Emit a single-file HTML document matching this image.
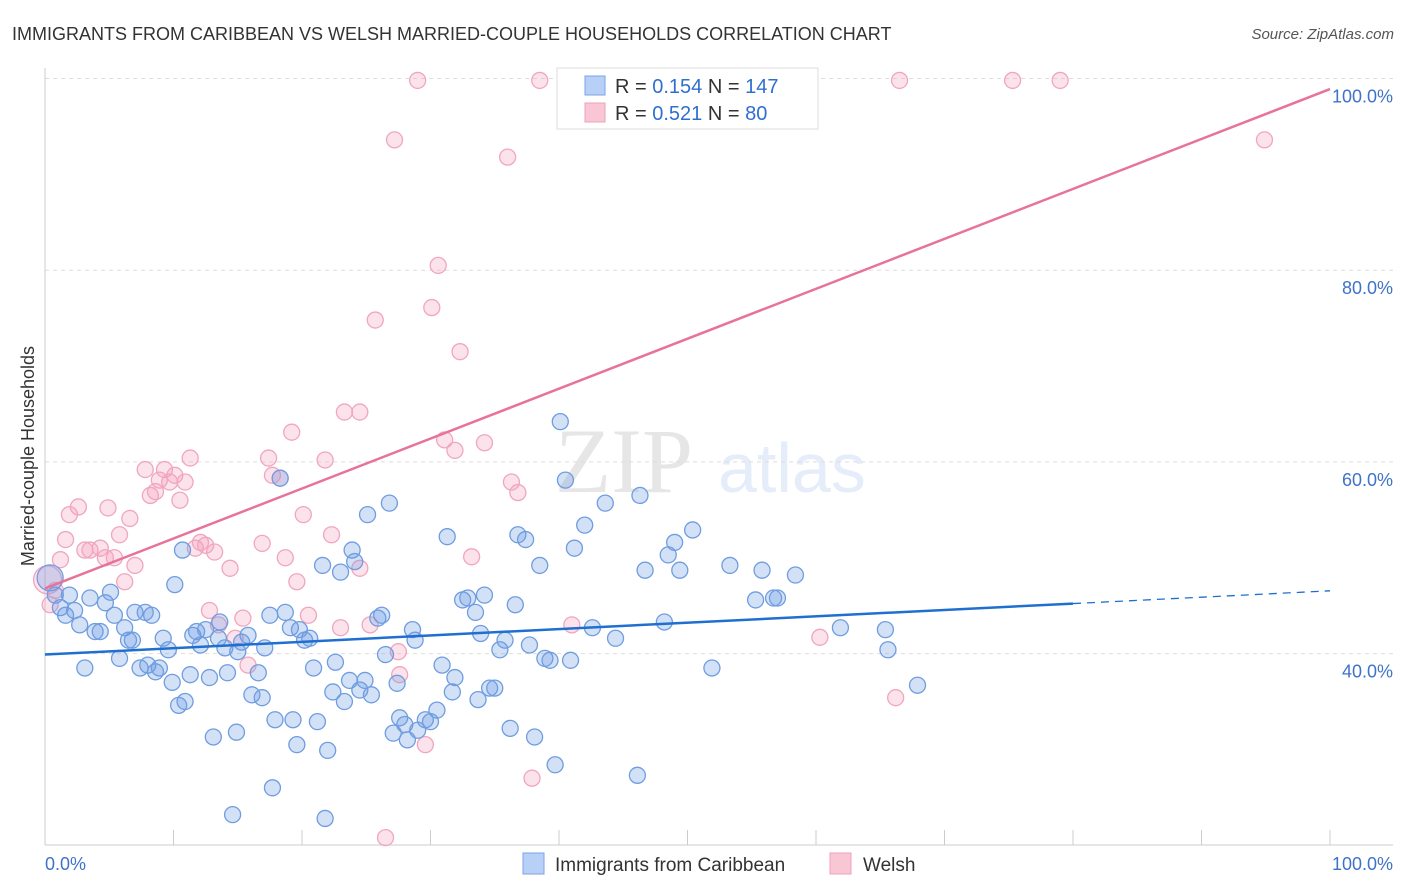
<!DOCTYPE html>
<html><head><meta charset="utf-8"><style>
body{margin:0;background:#fff;font-family:"Liberation Sans",sans-serif}
</style></head><body>
<svg id="chart" width="1406" height="892" xmlns="http://www.w3.org/2000/svg" style="display:block">
<text x="12" y="40" font-size="18" fill="#333">IMMIGRANTS FROM CARIBBEAN VS WELSH MARRIED-COUPLE HOUSEHOLDS CORRELATION CHART</text>
<text x="1394" y="39" font-size="15" fill="#555" text-anchor="end" font-style="italic">Source: ZipAtlas.com</text>
<text transform="translate(34,456) rotate(-90)" font-size="18" fill="#333" text-anchor="middle">Married-couple Households</text>
<g opacity="0.13"><text x="555" y="492" font-family="Liberation Serif" font-size="92" fill="#444">ZIP</text><text x="718" y="492" font-size="70" fill="#3b78d8">atlas</text></g>
<g id="grid"></g><g id="axes"></g><g id="marks"></g><g id="lines"></g>
<g>
<rect x="557" y="68" width="261" height="61" fill="#fff" stroke="#ddd"/>
<rect x="585" y="76" width="20" height="19" fill="#b8d0f5" stroke="#7aa5e6"/>
<rect x="585" y="103" width="20" height="19" fill="#f9c6d5" stroke="#f0a0bb"/>
<text x="615" y="93" font-size="20" fill="#333">R = <tspan fill="#2f6fd0">0.154</tspan>   N = <tspan fill="#2f6fd0">147</tspan></text>
<text x="615" y="120" font-size="20" fill="#333">R = <tspan fill="#2f6fd0">0.521</tspan>   N =  <tspan fill="#2f6fd0"> 80</tspan></text>
</g>
<g>
<rect x="523" y="853" width="21" height="21" fill="#b8d0f5" stroke="#7aa5e6"/>
<text x="555" y="871" font-size="19" fill="#333">Immigrants from Caribbean</text>
<rect x="830" y="853" width="21" height="21" fill="#f9c6d5" stroke="#f0a0bb"/>
<text x="863" y="871" font-size="19" fill="#333">Welsh</text>
</g>
</svg>
<script>
const yTicks=[40,60,80,100];
const yTickLabels=["40.0%","60.0%","80.0%","100.0%"];
const xTickVals=[0,10,20,30,40,50,60,70,80,90,100];
const blueX=[0.4,0.8,1.2,1.6,1.9,2.3,2.7,3.1,3.5,3.9,4.3,4.7,5.1,5.4,5.8,6.2,6.5,6.8,7.0,7.4,7.8,8.0,8.3,8.6,8.9,9.2,9.6,9.9,10.1,10.4,10.7,10.9,11.3,11.5,11.8,12.1,12.5,12.8,13.1,13.5,13.6,14.0,14.2,14.6,14.9,15.0,15.3,15.8,16.1,16.6,16.9,17.1,17.5,17.7,17.9,18.3,18.7,19.1,19.3,19.6,19.8,20.2,20.6,20.9,21.2,21.6,21.8,22.0,22.4,22.6,23.0,23.3,23.7,23.9,24.1,24.5,24.9,25.1,25.4,25.9,26.2,26.5,26.8,27.1,27.4,27.6,28.0,28.2,28.6,28.8,29.0,29.6,30.0,30.5,30.9,31.3,31.7,31.9,32.5,32.9,33.5,33.7,33.9,34.2,34.6,35.0,35.4,35.8,36.2,36.6,36.8,37.4,37.7,38.1,38.5,38.9,39.3,39.7,40.1,40.5,40.9,41.2,42.0,42.6,43.6,44.4,46.1,46.3,46.7,48.2,48.5,49.0,49.4,50.4,51.9,53.3,55.3,55.8,56.7,57.0,58.4,61.9,65.4,65.6,67.9];
const blueY=[47.9,46.1,44.8,44.0,46.1,44.5,43.0,38.5,45.8,42.3,42.3,45.3,46.4,44.0,39.5,42.7,41.4,41.4,44.3,38.5,44.3,38.8,44.0,38.1,38.5,41.6,40.4,37.0,47.2,34.6,50.8,35.0,37.8,41.9,42.3,40.9,42.5,37.5,31.3,41.6,43.3,40.6,38.0,23.2,31.8,40.2,41.2,41.9,35.7,38.0,35.4,40.6,44.0,26.0,33.1,58.3,44.3,42.7,33.1,30.5,42.5,41.4,41.6,38.5,32.9,49.2,22.8,29.9,36.0,39.1,48.5,35.0,37.2,50.8,49.6,36.2,37.2,54.5,35.7,43.7,44.0,39.9,55.7,31.7,36.9,33.3,32.6,31.0,42.5,41.4,32.0,33.1,32.9,34.1,38.8,52.2,36.0,37.5,45.6,45.8,44.3,35.2,42.1,46.1,36.4,36.4,40.4,41.4,32.2,45.1,52.4,51.9,40.9,31.3,49.2,39.5,39.3,28.4,64.2,58.1,39.3,51.0,53.4,42.7,55.7,41.6,27.3,56.5,48.7,43.3,50.3,51.6,48.7,52.9,38.5,49.2,45.6,48.7,45.8,45.8,48.2,42.7,42.5,40.4,36.7];
const pinkX=[0.2,0.4,0.8,1.2,1.6,1.9,2.6,3.1,3.5,4.3,4.7,4.9,5.4,5.8,6.2,6.6,7.0,7.8,8.2,8.6,8.9,9.3,9.7,10.1,10.5,10.9,11.3,11.7,12.1,12.5,12.8,13.2,13.5,14.4,14.8,15.4,15.8,16.9,17.4,17.7,18.3,18.7,19.2,19.6,20.1,20.5,21.8,22.3,23.0,23.3,24.5,24.5,25.3,25.7,27.2,27.5,27.6,29.0,29.6,30.1,30.6,31.1,31.9,32.3,33.2,34.2,36.0,36.3,36.8,37.9,38.5,41.0,47.5,60.3,66.2,66.5,75.3,79.0,94.9,26.5];
const pinkY=[47.7,45.1,46.6,49.8,51.9,54.5,55.3,50.8,50.8,51.0,50.0,55.2,50.0,52.4,47.5,54.1,49.2,59.2,56.5,56.9,58.1,59.2,57.9,58.6,56.0,57.9,60.4,51.0,51.6,51.3,44.5,50.6,43.0,48.9,41.6,43.7,38.8,51.5,60.4,58.6,58.3,50.0,63.1,47.5,54.5,44.0,60.2,52.4,42.7,65.2,65.2,48.9,43.0,74.8,93.6,40.2,37.8,99.8,30.5,76.1,80.5,62.3,61.2,71.5,50.1,62.0,91.8,57.9,56.8,27.0,99.8,43.0,99.8,41.7,35.4,99.8,99.8,99.8,93.6,20.8];
const blueFit=[39.9,0.0665]; // intercept, slope
const pinkFit=[46.8,0.521];
const NS="http://www.w3.org/2000/svg";
const X0=45,X1=1330,YB=1037,PXPER=9.585;
function sx(v){return X0+(X1-X0)*v/100;}
function sy(v){return YB-v*PXPER;}
function mk(tag,attrs,parent){const e=document.createElementNS(NS,tag);for(const k in attrs)e.setAttribute(k,attrs[k]);document.getElementById(parent).appendChild(e);return e;}
yTicks.forEach((t,i)=>{
 const l=mk('line',{x1:45,x2:1393,y1:sy(t),y2:sy(t),stroke:'#ddd','stroke-dasharray':'4,4'},'grid');
 
 
 const tx=mk('text',{x:1393,y:sy(t)+24,'font-size':18,fill:'#3f72c9','text-anchor':'end'},'grid');
 tx.textContent=yTickLabels[i];
 
 
});
let a=mk('line',{x1:45,x2:45,y1:68,y2:845,stroke:'#ccc'},'axes');


a=mk('line',{x1:45,x2:1393,y1:845,y2:845,stroke:'#ccc'},'axes');


xTickVals.forEach(v=>{
 const t=mk('line',{x1:sx(v),x2:sx(v),y1:830,y2:845,stroke:'#ccc'},'axes');
 
 
});
let t0=mk('text',{x:45,y:870,'font-size':18,fill:'#3f72c9'},'axes');t0.textContent='0.0%';


let t1=mk('text',{x:1393,y:870,'font-size':18,fill:'#3f72c9','text-anchor':'end'},'axes');t1.textContent='100.0%';


pinkX.forEach((x,i)=>{
 const c=mk('circle',{cx:sx(x),cy:sy(pinkY[i]),r:i===0?14:8,fill:'rgba(244,160,190,0.3)',stroke:'#f0a6bf','stroke-width':1.3},'marks');
 
 
});
blueX.forEach((x,i)=>{
 const c=mk('circle',{cx:sx(x),cy:sy(blueY[i]),r:i===0?13:8,fill:'rgba(110,155,230,0.3)',stroke:'#6f9de0','stroke-width':1.3},'marks');
 
 
});
let l=mk('line',{x1:sx(0),y1:sy(blueFit[0]),x2:sx(80),y2:sy(blueFit[0]+blueFit[1]*80),stroke:'#1f6fd0','stroke-width':2.5},'lines');


l=mk('line',{x1:sx(80),y1:sy(blueFit[0]+blueFit[1]*80),x2:sx(100),y2:sy(blueFit[0]+blueFit[1]*100),stroke:'#1f6fd0','stroke-width':1.3,'stroke-dasharray':'8,6'},'lines');


l=mk('line',{x1:sx(0),y1:sy(pinkFit[0]),x2:sx(100),y2:sy(pinkFit[0]+pinkFit[1]*100),stroke:'#e8739a','stroke-width':2.5},'lines');


</script>
</body></html>
